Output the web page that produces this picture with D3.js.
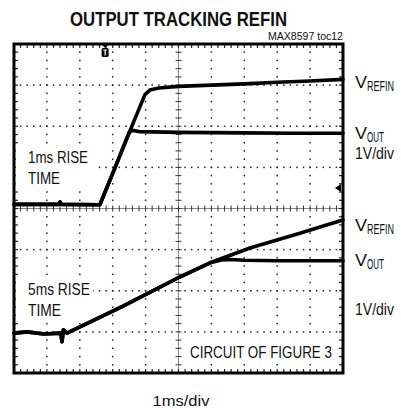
<!DOCTYPE html>
<html lang="en">
<head>
<meta charset="UTF-8">
<script src="https://d3js.org/d3.v7.min.js"></script>
<style>
  body { margin: 0; background: #fff; }
  text { font-family: "Liberation Sans", Arial, sans-serif; fill: #111; }
  .trace { fill: none; stroke: #000; stroke-width: 3.6px; stroke-linejoin: round; stroke-linecap: round; }
</style>
</head>
<body>
<script>
// scope screen: 10 divisions across (1ms/div), 8 divisions high
// traces are [time div, vertical div from bottom]
var refinTop = [[0, 4.1], [1.35, 4.1], [1.4, 4.16], [1.45, 4.1], [2.61, 4.09], [3.1, 5.05], [3.53, 5.9],
  [3.98, 6.77], [4.13, 6.88], [4.4, 6.93], [5, 6.97], [6, 7.0], [7, 7.03], [8, 7.07], [9, 7.1], [10, 7.14]];
var voutTop = [[0, 4.1], [1.35, 4.1], [1.4, 4.16], [1.45, 4.1], [2.61, 4.09], [3.1, 5.05], [3.5, 5.85],
  [3.6, 5.9], [3.8, 5.87], [5, 5.85], [7, 5.84], [8.5, 5.83], [10, 5.83]];
var refinBottom = [[0, 0.97], [0.4, 1.0], [0.9, 0.95], [1.42, 0.97], [1.46, 0.76], [1.5, 1.05], [1.61, 0.97],
  [3.3, 1.62], [5.05, 2.34], [5.96, 2.68], [7.17, 3.04], [8.69, 3.4], [9.5, 3.6], [10, 3.72]];
var voutBottom = [[0, 0.97], [0.4, 1.0], [0.9, 0.95], [1.42, 0.97], [1.46, 0.76], [1.5, 1.05], [1.61, 0.97],
  [3.3, 1.62], [5.05, 2.34], [5.96, 2.68], [6.3, 2.75], [6.6, 2.76], [7, 2.74], [8, 2.73], [10, 2.73]];

var triggerX = 2.77;   // trigger marker (div)
var groundY = 4.5;     // right edge level marker (div)

// labels on the right: main text, subscript, baseline (div)
var rightLabels = [["V", "REFIN", 6.92], ["V", "OUT", 5.7], ["1V/div", "", 5.2],
  ["V", "REFIN", 3.45], ["V", "OUT", 2.6], ["1V/div", "", 1.41]];

var width = 401, height = 408;
var plot = {left: 14, right: 343, top: 44, bottom: 373};

var x = d3.scaleLinear().domain([0, 10]).range([plot.left, plot.right]);
var y = d3.scaleLinear().domain([0, 8]).range([plot.bottom, plot.top]);

var svg = d3.select("body").append("svg")
  .attr("width", width)
  .attr("height", height);

// narrow text helper: squeeze to the measured width
function narrowText(s, tx, ty, size, len, anchor, weight) {
  return svg.append("text")
    .attr("x", tx).attr("y", ty)
    .attr("text-anchor", anchor || "start")
    .attr("textLength", len).attr("lengthAdjust", "spacingAndGlyphs")
    .style("font-size", size + "px")
    .style("font-weight", weight || "normal")
    .text(s);
}

// title
narrowText("OUTPUT TRACKING REFIN", 178.5, 26, 20, 217, "middle", "bold");
narrowText("MAX8597 toc12", plot.right, 39.5, 10, 75, "end");

var minorX = d3.range(0, 10.01, 0.2), minorY = d3.range(0, 8.01, 0.2);

// dotted grid
var grid = svg.append("g").attr("fill", "#222");
d3.range(1, 8).filter(function(d) { return d !== 4; }).forEach(function(gy) {
  grid.selectAll(null).data(minorX.slice(1, -1)).enter().append("rect")
    .attr("x", function(d) { return x(d) - 0.75; })
    .attr("y", y(gy) - 0.75)
    .attr("width", 1.5).attr("height", 1.5);
});
d3.range(1, 10).filter(function(d) { return d !== 5; }).forEach(function(gx) {
  grid.selectAll(null).data(minorY.slice(1, -1)).enter().append("rect")
    .attr("x", x(gx) - 0.75)
    .attr("y", function(d) { return y(d) - 0.75; })
    .attr("width", 1.5).attr("height", 1.5);
});

// center axes with ticks
svg.append("line")
  .attr("x1", plot.left).attr("x2", plot.right)
  .attr("y1", y(4)).attr("y2", y(4))
  .attr("stroke", "#888").attr("stroke-width", 1);
svg.append("line")
  .attr("x1", x(5)).attr("x2", x(5))
  .attr("y1", plot.top).attr("y2", plot.bottom)
  .attr("stroke", "#888").attr("stroke-width", 1);
svg.append("g").selectAll("line").data(minorX).enter().append("line")
  .attr("x1", function(d) { return x(d); }).attr("x2", function(d) { return x(d); })
  .attr("y1", y(4) - 3).attr("y2", y(4) + 3)
  .attr("stroke", "#333").attr("stroke-width", 1);
svg.append("g").selectAll("line").data(minorY).enter().append("line")
  .attr("x1", x(5) - 3).attr("x2", x(5) + 3)
  .attr("y1", function(d) { return y(d); }).attr("y2", function(d) { return y(d); })
  .attr("stroke", "#333").attr("stroke-width", 1);

// edge ticks
var edge = svg.append("g").attr("stroke", "#222").attr("stroke-width", 1.2);
minorX.forEach(function(d) {
  edge.append("line").attr("x1", x(d)).attr("x2", x(d)).attr("y1", plot.top).attr("y2", plot.top + 4);
  edge.append("line").attr("x1", x(d)).attr("x2", x(d)).attr("y1", plot.bottom).attr("y2", plot.bottom - 4);
});
minorY.forEach(function(d) {
  edge.append("line").attr("x1", plot.left).attr("x2", plot.left + 4).attr("y1", y(d)).attr("y2", y(d));
  edge.append("line").attr("x1", plot.right).attr("x2", plot.right - 4).attr("y1", y(d)).attr("y2", y(d));
});

// in-plot notes on white boxes
svg.append("rect").attr("x", 16).attr("y", 146).attr("width", 79).attr("height", 42).attr("fill", "#fff");
narrowText("1ms RISE", 28, 163, 16, 60);
narrowText("TIME", 28, 183.5, 16, 32);
svg.append("rect").attr("x", 16).attr("y", 279).attr("width", 77).attr("height", 40).attr("fill", "#fff");
narrowText("5ms RISE", 28, 295, 16, 62);
narrowText("TIME", 28, 315.5, 16, 33);
svg.append("rect").attr("x", 186).attr("y", 339).attr("width", 150).attr("height", 23).attr("fill", "#fff");
narrowText("CIRCUIT OF FIGURE 3", 190, 357.5, 16, 142);

// traces
var line = d3.line()
  .x(function(d) { return x(d[0]); })
  .y(function(d) { return y(d[1]); });

[refinTop, voutTop, refinBottom, voutBottom].forEach(function(s) {
  svg.append("path").datum(s).attr("class", "trace").attr("d", line);
});

// frame
svg.append("rect")
  .attr("x", plot.left).attr("y", plot.top)
  .attr("width", plot.right - plot.left).attr("height", plot.bottom - plot.top)
  .attr("fill", "none").attr("stroke", "#000").attr("stroke-width", 3);

// trigger marker
var tx = x(triggerX);
svg.append("path")
  .attr("d", "M" + (tx - 4) + "," + plot.top + "L" + (tx + 4) + "," + plot.top + "L" + tx + "," + (plot.top + 4) + "Z")
  .attr("fill", "#000");
svg.append("rect")
  .attr("x", tx - 3.5).attr("y", plot.top + 4).attr("width", 7).attr("height", 9).attr("rx", 1.5)
  .attr("fill", "#000");
svg.append("path")
  .attr("d", "M" + (tx - 2) + "," + (plot.top + 6) + "H" + (tx + 2) + "M" + tx + "," + (plot.top + 6) + "V" + (plot.top + 11.5))
  .attr("stroke", "#fff").attr("stroke-width", 1.2);

// level marker on right edge
var gy = y(groundY);
svg.append("path")
  .attr("d", "M" + (plot.right - 8) + "," + gy + "L" + (plot.right - 2) + "," + (gy - 4) + "L" + (plot.right - 2) + "," + (gy + 4) + "Z")
  .attr("fill", "#000");

// right labels
rightLabels.forEach(function(l) {
  if (l[1]) {
    narrowText(l[0], 355, y(l[2]), 17, 12);
    narrowText(l[1], 367, y(l[2]) + 3, 15, l[1] === "REFIN" ? 27 : 17);
  } else {
    narrowText(l[0], 355, y(l[2]), 17, 39);
  }
});

// time base
narrowText("1ms/div", 181, 406, 15, 57, "middle");
</script>
</body>
</html>
